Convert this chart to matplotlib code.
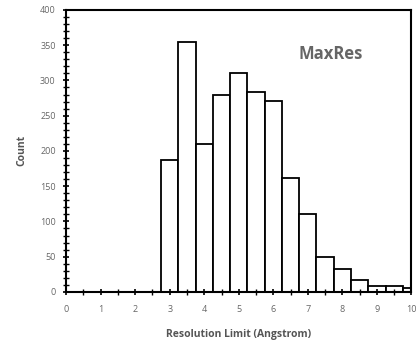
import numpy as np
import matplotlib
matplotlib.use("Agg")
import matplotlib.pyplot as plt

# Histogram of resolution limits (bin centres, width 0.5)
bin_centers = [3.0, 3.5, 4.0, 4.5, 5.0, 5.5, 6.0, 6.5, 7.0, 7.5, 8.0, 8.5, 9.0, 9.5, 10.0]
counts = [187, 355, 210, 280, 311, 283, 271, 162, 111, 50, 33, 17, 8, 8, 5]

plt.rcParams['font.family'] = ['Open Sans', 'DejaVu Sans']

fig = plt.figure(figsize=(4.16, 3.43), dpi=100)
ax = fig.add_axes([0.159, 0.149, 0.83, 0.822])

ax.bar(bin_centers, counts, width=0.5, color='white', edgecolor='black', linewidth=1.3)

ax.set_xlim(0, 10)
ax.set_ylim(0, 400)
ax.set_xticks(np.arange(0, 11, 1))
ax.set_xticks(np.arange(0, 10.01, 0.5), minor=True)
ax.set_yticks(np.arange(0, 401, 50))
ax.set_yticks(np.arange(0, 401, 10), minor=True)

ax.tick_params(axis='both', which='major', direction='inout', length=5, width=1.2,
               labelsize=6.5, labelcolor='#666666')
ax.tick_params(axis='x', which='major', pad=7)
ax.tick_params(axis='y', which='major', pad=5)
ax.tick_params(axis='both', which='minor', direction='inout', length=4, width=1.0)

for s in ax.spines.values():
    s.set_linewidth(1.5)

ax.set_xlabel('Resolution Limit (Angstrom)', fontsize=7.5, fontweight='bold', color='#555555', labelpad=11)
ax.set_ylabel('Count', fontsize=7.5, fontweight='bold', color='#555555', labelpad=9)

ax.text(0.765, 0.845, 'MaxRes', transform=ax.transAxes, fontsize=12, fontweight='bold',
        color='#666666', ha='center', va='center')

fig.savefig('out.png', dpi=100)
